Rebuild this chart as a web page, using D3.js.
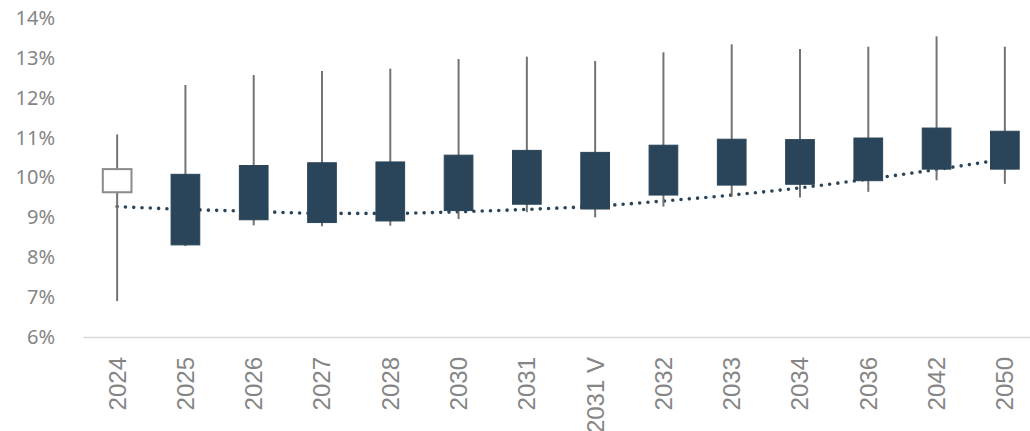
<!DOCTYPE html>
<html>
<head>
<meta charset="utf-8">
<script src="https://cdn.jsdelivr.net/npm/d3@7"></script>
<style>
  html, body { margin: 0; padding: 0; background: #fff; }
  svg { display: block; }
</style>
</head>
<body>
<div id="chart"></div>
<script>
// chart values (percent)
var categories = ['2024', '2025', '2026', '2027', '2028', '2030', '2031', '2031 V', '2032', '2033', '2034', '2036', '2042', '2050'];
var openVals  = [9.63, 10.08, 10.30, 10.37, 10.39, 10.56, 10.68, 10.63, 10.81, 10.96, 10.95, 10.99, 11.24, 11.16];
var highVals  = [11.08, 12.32, 12.57, 12.67, 12.73, 12.97, 13.03, 12.92, 13.14, 13.34, 13.22, 13.28, 13.54, 13.28];
var lowVals   = [6.90, 8.28, 8.80, 8.78, 8.79, 8.96, 9.13, 9.00, 9.27, 9.52, 9.50, 9.64, 9.93, 9.84];
var closeVals = [10.21, 8.31, 8.94, 8.87, 8.91, 9.17, 9.33, 9.21, 9.56, 9.81, 9.83, 9.92, 10.21, 10.21];
var trendVals = [9.27, 9.20, 9.15, 9.10, 9.10, 9.14, 9.20, 9.28, 9.41, 9.56, 9.74, 9.96, 10.20, 10.46];
var yTicks = [6, 7, 8, 9, 10, 11, 12, 13, 14];

var W = 1030, H = 431;
var plotL = 83, plotR = 1039, plotT = 18, plotB = 337;

var darkColor = '#2a4559',
  wickColor = '#737373',
  labelColor = '#858585',
  axisColor = '#d9d9d9';

var svg = d3.select('#chart')
  .append('svg')
  .attr('width', W)
  .attr('height', H);

var x = d3.scaleBand()
  .domain(categories)
  .range([plotL, plotR])
  .paddingInner(0)
  .paddingOuter(0);

var y = d3.scaleLinear()
  .domain([6, 14])
  .range([plotB, plotT]);

var boxW = x.bandwidth() * 0.42;
var cx = function(i) { return x(categories[i]) + x.bandwidth() / 2; };

/* y axis: labels only */
var yAxis = svg.append('g')
  .attr('transform', 'translate(' + plotL + ',0)')
  .call(d3.axisLeft(y).tickValues(yTicks).tickSize(0).tickPadding(28)
    .tickFormat(function(d) { return d + '%'; }));
yAxis.select('.domain').remove();
yAxis.selectAll('text')
  .attr('fill', labelColor)
  .style('font-family', '"Noto Sans", "Open Sans", sans-serif')
  .style('font-size', '20px');

/* x axis */
var xAxis = svg.append('g')
  .attr('transform', 'translate(0,' + plotB + ')')
  .call(d3.axisBottom(x).tickSize(0).tickPadding(0));
xAxis.select('.domain')
  .attr('stroke', axisColor)
  .attr('stroke-width', 1.5);
xAxis.selectAll('text')
  .attr('fill', labelColor)
  .style('font-family', '"Liberation Sans", Arial, sans-serif')
  .style('font-size', '24px')
  .attr('text-anchor', 'end')
  .attr('dy', '0.35em')
  .attr('transform', 'translate(0,20) rotate(-90)');

/* dotted trend line, behind the candles */
var line = d3.line()
  .x(function(d, i) { return cx(i); })
  .y(function(d) { return y(d); })
  .curve(d3.curveMonotoneX);

svg.append('path')
  .datum(trendVals)
  .attr('d', line)
  .attr('fill', 'none')
  .attr('stroke', darkColor)
  .attr('stroke-width', 3.6)
  .attr('stroke-linecap', 'round')
  .attr('stroke-dasharray', '0 8.3');

/* whiskers */
svg.append('g').selectAll('line')
  .data(categories)
  .join('line')
  .attr('x1', function(d, i) { return cx(i); })
  .attr('x2', function(d, i) { return cx(i); })
  .attr('y1', function(d, i) { return y(highVals[i]); })
  .attr('y2', function(d, i) { return y(lowVals[i]); })
  .attr('stroke', wickColor)
  .attr('stroke-width', 2);

/* boxes: hollow when close > open */
svg.append('g').selectAll('rect')
  .data(categories)
  .join('rect')
  .attr('x', function(d, i) { return cx(i) - boxW / 2; })
  .attr('width', boxW)
  .attr('y', function(d, i) { return y(Math.max(openVals[i], closeVals[i])); })
  .attr('height', function(d, i) { return Math.abs(y(openVals[i]) - y(closeVals[i])); })
  .attr('fill', function(d, i) { return closeVals[i] > openVals[i] ? '#fff' : darkColor; })
  .attr('stroke', function(d, i) { return closeVals[i] > openVals[i] ? '#8a8a8a' : darkColor; })
  .attr('stroke-width', function(d, i) { return closeVals[i] > openVals[i] ? 2 : 1; });
</script>
</body>
</html>
